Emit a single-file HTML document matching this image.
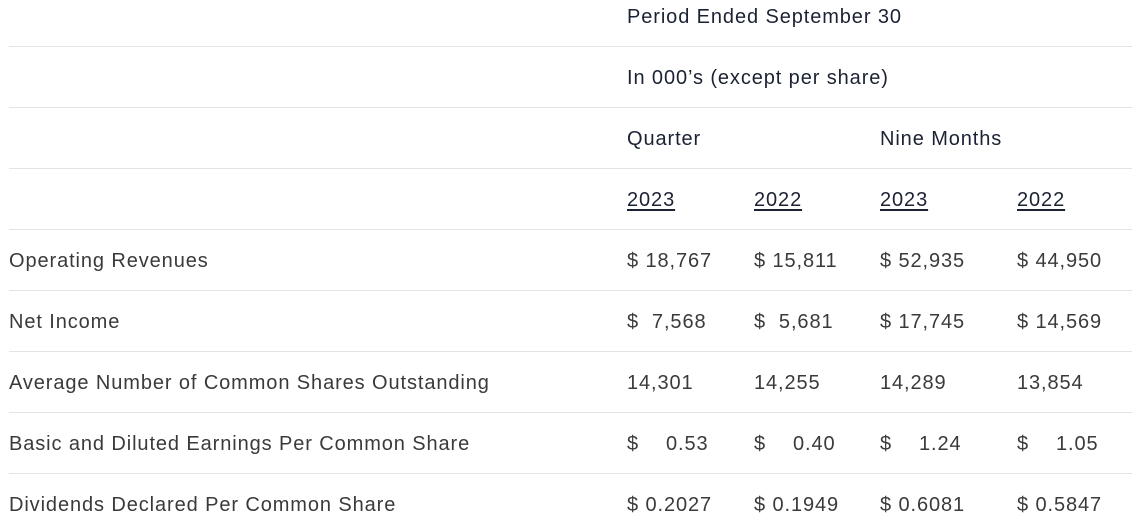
<!DOCTYPE html><html><head><style>
body{margin:0;width:1147px;height:527px;background:#fff;overflow:hidden;font-family:"Liberation Sans",sans-serif;font-size:20px;letter-spacing:0.9px;color:#3a3a3a;position:relative}
.t{position:absolute;white-space:pre;line-height:24px}
.h{color:#1b2233}
.u{text-decoration:underline;text-underline-offset:3px}
.l{position:absolute;left:9px;width:1123px;height:1px;background:#e4e4e4}
</style></head><body>
<div class="t h" style="left:627px;top:5px">Period Ended September 30</div>
<div class="l" style="top:46px"></div>
<div class="t h" style="left:627px;top:66px">In 000’s (except per share)</div>
<div class="l" style="top:107px"></div>
<div class="t h" style="left:627px;top:127px">Quarter</div>
<div class="t h" style="left:880px;top:127px">Nine Months</div>
<div class="l" style="top:168px"></div>
<div class="t h u" style="left:627px;top:188px">2023</div>
<div class="t h u" style="left:754px;top:188px">2022</div>
<div class="t h u" style="left:880px;top:188px">2023</div>
<div class="t h u" style="left:1017px;top:188px">2022</div>
<div class="l" style="top:229px"></div>
<div class="t" style="left:9px;top:249px">Operating Revenues</div>
<div class="t" style="left:627px;top:249px">$ 18,767</div>
<div class="t" style="left:754px;top:249px">$ 15,811</div>
<div class="t" style="left:880px;top:249px">$ 52,935</div>
<div class="t" style="left:1017px;top:249px">$ 44,950</div>
<div class="l" style="top:290px"></div>
<div class="t" style="left:9px;top:310px">Net Income</div>
<div class="t" style="left:627px;top:310px">$  7,568</div>
<div class="t" style="left:754px;top:310px">$  5,681</div>
<div class="t" style="left:880px;top:310px">$ 17,745</div>
<div class="t" style="left:1017px;top:310px">$ 14,569</div>
<div class="l" style="top:351px"></div>
<div class="t" style="left:9px;top:371px">Average Number of Common Shares Outstanding</div>
<div class="t" style="left:627px;top:371px">14,301</div>
<div class="t" style="left:754px;top:371px">14,255</div>
<div class="t" style="left:880px;top:371px">14,289</div>
<div class="t" style="left:1017px;top:371px">13,854</div>
<div class="l" style="top:412px"></div>
<div class="t" style="left:9px;top:432px">Basic and Diluted Earnings Per Common Share</div>
<div class="t" style="left:627px;top:432px">$</div><div class="t" style="left:666px;top:432px">0.53</div>
<div class="t" style="left:754px;top:432px">$</div><div class="t" style="left:793px;top:432px">0.40</div>
<div class="t" style="left:880px;top:432px">$</div><div class="t" style="left:919px;top:432px">1.24</div>
<div class="t" style="left:1017px;top:432px">$</div><div class="t" style="left:1056px;top:432px">1.05</div>
<div class="l" style="top:473px"></div>
<div class="t" style="left:9px;top:493px">Dividends Declared Per Common Share</div>
<div class="t" style="left:627px;top:493px">$ 0.2027</div>
<div class="t" style="left:754px;top:493px">$ 0.1949</div>
<div class="t" style="left:880px;top:493px">$ 0.6081</div>
<div class="t" style="left:1017px;top:493px">$ 0.5847</div>
</body></html>
